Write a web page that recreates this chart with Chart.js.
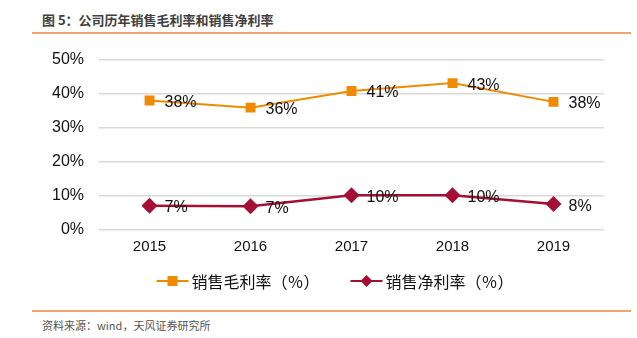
<!DOCTYPE html>
<html>
<head>
<meta charset="utf-8">
<script src="https://cdn.jsdelivr.net/npm/chart.js@4/dist/chart.umd.min.js"></script>
<style>
  body { margin: 0; background: #fff; width: 637px; height: 338px; position: relative; overflow: hidden;
         font-family: "Noto Sans CJK SC", "Liberation Sans", sans-serif; }
  #title { position: absolute; left: 42px; top: 10px; font-size: 13px; font-weight: bold; color: #404040; }
  .rule { position: absolute; left: 32px; width: 599px; height: 0; border-top: 2px solid #F2A46A; }
  #source { position: absolute; left: 42px; top: 317px; font-size: 11px; color: #555; }
  #box { position: absolute; left: 0; top: 35px; width: 637px; height: 265px; }
</style>
</head>
<body>
<div id="title">图 5：公司历年销售毛利率和销售净利率</div>
<div class="rule" style="top:32px"></div>
<div id="box"><canvas id="chart"></canvas></div>
<div class="rule" style="top:310px"></div>
<div id="source">资料来源：wind，天风证券研究所</div>
<script>
// 年份
const years = ['2015', '2016', '2017', '2018', '2019'];
// 销售毛利率 (%)
const grossMargin = [38.0, 35.9, 40.8, 43.1, 37.6];
const grossLabels = ['38%', '36%', '41%', '43%', '38%'];
// 销售净利率 (%)
const netMargin = [7.1, 7.0, 10.2, 10.2, 7.6];
const netLabels = ['7%', '7%', '10%', '10%', '8%'];
// 纵轴刻度
const yTicks = [0, 10, 20, 30, 40, 50];

const orange = '#F08A00';
const red = '#A50F35';

// 数据标签
const valueLabels = {
    id: 'valueLabels',
    afterDatasetsDraw(chart) {
        const ctx = chart.ctx;
        const texts = [grossLabels, netLabels];
        ctx.save();
        ctx.font = '16px "Liberation Sans", Arial, sans-serif';
        ctx.fillStyle = '#111';
        ctx.textBaseline = 'middle';
        ctx.textAlign = 'left';
        chart.data.datasets.forEach((ds, i) => {
            chart.getDatasetMeta(i).data.forEach((pt, j) => {
                ctx.fillText(texts[i][j], pt.x + 15, pt.y + 2);
            });
        });
        ctx.restore();
    }
};

// 图例：线段+标记+文字，画在图的下方
const lineLegend = {
    id: 'lineLegend',
    afterDraw(chart) {
        const ctx = chart.ctx;
        const y = 246;
        const lineLen = 32, gapText = 3, gapItem = 31;
        ctx.save();
        ctx.font = '16px "Noto Sans CJK SC", sans-serif';
        const widths = chart.data.datasets.map(ds => lineLen + gapText + ctx.measureText(ds.label).width);
        const total = widths.reduce((a, b) => a + b, 0) + gapItem * (widths.length - 1);
        let x = 335 - total / 2;
        chart.data.datasets.forEach((ds, i) => {
            ctx.strokeStyle = ds.borderColor;
            ctx.fillStyle = ds.borderColor;
            ctx.lineWidth = 2;
            ctx.beginPath(); ctx.moveTo(x, y); ctx.lineTo(x + lineLen, y); ctx.stroke();
            const cx = x + lineLen / 2;
            if (ds.pointStyle === 'rect') {
                ctx.fillRect(cx - 5, y - 5, 10, 10);
            } else {
                ctx.beginPath();
                ctx.moveTo(cx, y - 6); ctx.lineTo(cx + 6, y); ctx.lineTo(cx, y + 6); ctx.lineTo(cx - 6, y);
                ctx.closePath(); ctx.fill();
            }
            ctx.fillStyle = '#111';
            ctx.textBaseline = 'middle';
            ctx.fillText(ds.label, x + lineLen + gapText, y + 1);
            x += widths[i] + gapItem;
        });
        ctx.restore();
    }
};

new Chart(document.getElementById('chart'), {
    type: 'line',
    data: {
        labels: years,
        datasets: [{
            label: '销售毛利率（％）',
            data: grossMargin,
            borderColor: orange,
            backgroundColor: orange,
            borderWidth: 2,
            pointStyle: 'rect',
            pointRadius: 7,
            pointHoverRadius: 7,
            pointBorderWidth: 0
        }, {
            label: '销售净利率（％）',
            data: netMargin,
            borderColor: red,
            backgroundColor: red,
            borderWidth: 2.5,
            pointStyle: 'rectRot',
            pointRadius: 8,
            pointHoverRadius: 8,
            pointBorderWidth: 0
        }]
    },
    options: {
        responsive: true,
        maintainAspectRatio: false,
        animation: false,
        layout: { padding: { left: 37, right: 33, top: 2, bottom: 36 } },
        plugins: {
            tooltip: { enabled: false },
            legend: { display: false }
        },
        scales: {
            x: {
                offset: true,
                grid: { display: false, drawTicks: false },
                border: { display: false },
                ticks: { color: '#111', font: { size: 15, family: '"Liberation Sans", Arial' }, padding: 8 }
            },
            y: {
                min: 0,
                max: 50,
                afterBuildTicks(axis) { axis.ticks = yTicks.map(v => ({ value: v })); },
                grid: { color: '#D9D9D9', lineWidth: 1.5, drawTicks: false },
                border: { display: false },
                ticks: {
                    color: '#111',
                    padding: 15,
                    font: { size: 16, family: '"Liberation Sans", Arial' },
                    callback: v => v + '%'
                }
            }
        }
    },
    plugins: [valueLabels, lineLegend]
});
</script>
</body>
</html>
